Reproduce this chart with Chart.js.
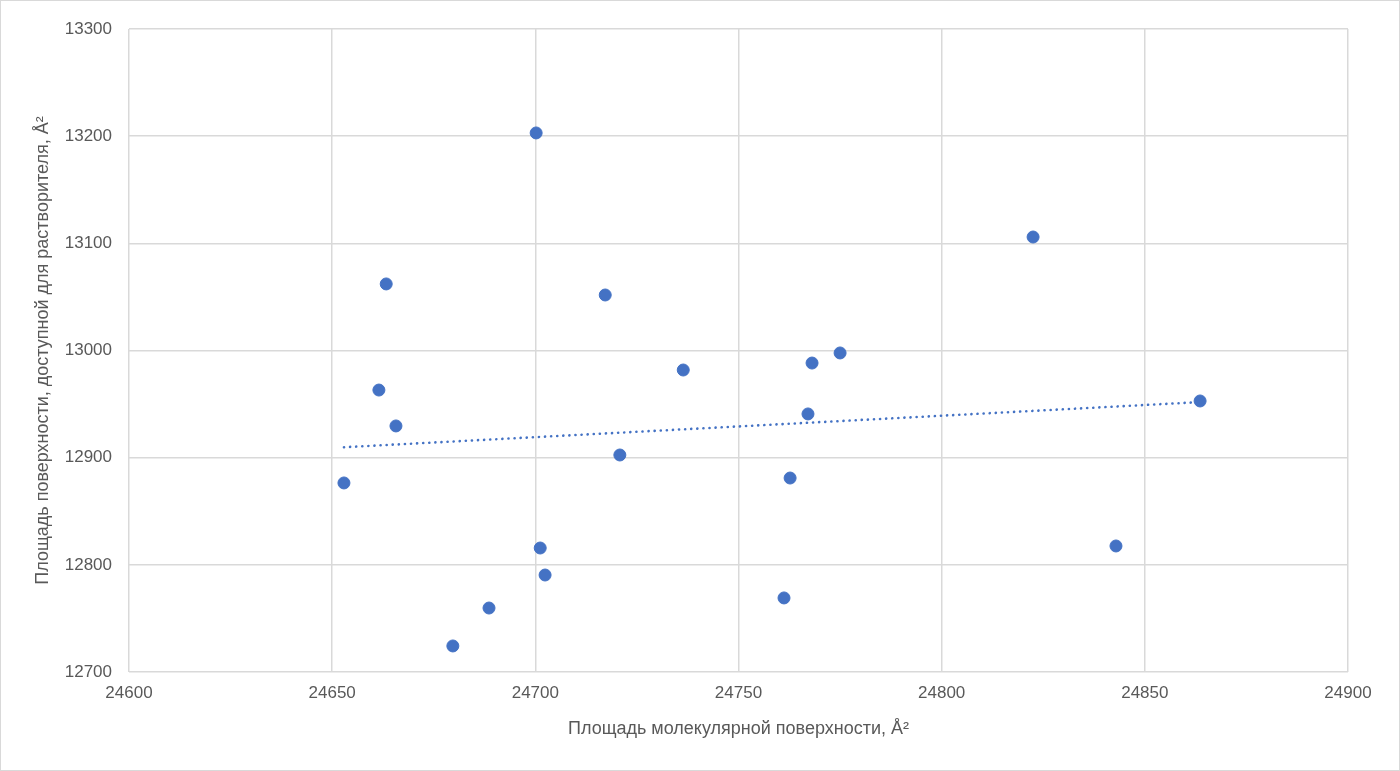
<!DOCTYPE html>
<html>
<head>
<meta charset="utf-8">
<script src="https://cdn.jsdelivr.net/npm/chart.js@4.4.1/dist/chart.umd.min.js"></script>
<style>
  html, body { margin: 0; padding: 0; background: #fff; }
  #wrap { width: 1400px; height: 771px; position: relative; }
</style>
</head>
<body>
<div id="wrap"><canvas id="chart" width="1400" height="771"></canvas></div>
<script>
// Molecular surface area vs solvent accessible surface area
const molecularArea = [
    24652.9, 24661.5, 24663.3, 24665.7, 24679.7, 24688.6, 24700.2, 24701.2, 24702.4, 24717.2,
    24720.8, 24736.4, 24761.2, 24762.7, 24767.1, 24768.1, 24775.0, 24822.5, 24842.9, 24863.6
];
const solventArea = [
    12876.4, 12963.1, 13062.1, 12929.6, 12724.3, 12759.7, 13203.0, 12815.7, 12790.5, 13051.8,
    12902.5, 12981.8, 12769.1, 12881.0, 12940.8, 12988.3, 12997.7, 13105.9, 12817.6, 12952.9
];
const xTitle = 'Площадь молекулярной поверхности, Å²';
const yTitle = 'Площадь поверхности, доступной для растворителя, Å²';

const blue = '#4472C4';
const fontFamily = "'Liberation Sans', Arial, sans-serif";

// linear trendline (least squares) over the data range
function trendline(xs, ys) {
    const n = xs.length;
    const mx = xs.reduce((a, b) => a + b, 0) / n;
    const my = ys.reduce((a, b) => a + b, 0) / n;
    let sxy = 0, sxx = 0;
    for (let i = 0; i < n; i++) {
        sxy += (xs[i] - mx) * (ys[i] - my);
        sxx += (xs[i] - mx) * (xs[i] - mx);
    }
    const k = sxy / sxx;
    const b = my - k * mx;
    const x0 = Math.min(...xs), x1 = Math.max(...xs);
    return [{ x: x0, y: k * x0 + b }, { x: x1, y: k * x1 + b }];
}

const points = molecularArea.map((x, i) => ({ x: x, y: solventArea[i] }));

const outerBorder = {
    id: 'outerBorder',
    afterDraw(chart) {
        const ctx = chart.ctx;
        ctx.save();
        ctx.strokeStyle = '#d9d9d9';
        ctx.lineWidth = 1;
        ctx.strokeRect(0.5, 0.5, chart.width - 1, chart.height - 1);
        ctx.restore();
    }
};

new Chart(document.getElementById('chart'), {
    type: 'scatter',
    data: {
        datasets: [{
            label: 'Данные',
            data: points,
            backgroundColor: blue,
            borderColor: blue,
            pointRadius: 6,
            pointHoverRadius: 6,
            order: 1
        }, {
            label: 'Линейная',
            type: 'line',
            data: trendline(molecularArea, solventArea),
            borderColor: blue,
            borderWidth: 2.6,
            borderDash: [0.1, 6],
            borderCapStyle: 'round',
            pointRadius: 0,
            fill: false,
            order: 2
        }]
    },
    options: {
        responsive: false,
        animation: false,
        layout: { padding: { top: 29, right: 52, left: 0, bottom: 27 } },
        plugins: {
            legend: { display: false },
            tooltip: { enabled: false }
        },
        scales: {
            x: {
                type: 'linear',
                min: 24600,
                max: 24900,
                afterFit: (s) => { s.height = 72; },
                border: { display: false },
                grid: { color: '#d9d9d9', lineWidth: 1.5, drawTicks: false },
                ticks: {
                    stepSize: 50,
                    padding: 11,
                    color: '#595959',
                    font: { family: fontFamily, size: 17 },
                    callback: (v) => String(v)
                },
                title: {
                    display: true,
                    text: xTitle,
                    color: '#595959',
                    font: { family: fontFamily, size: 18 },
                    padding: { top: 12 }
                }
            },
            y: {
                type: 'linear',
                min: 12700,
                max: 13300,
                afterFit: (s) => { s.width = 129; },
                border: { display: false },
                grid: { color: '#d9d9d9', lineWidth: 1.5, drawTicks: false },
                ticks: {
                    stepSize: 100,
                    padding: 17,
                    color: '#595959',
                    font: { family: fontFamily, size: 17 },
                    callback: (v) => String(v)
                },
                title: {
                    display: true,
                    text: yTitle,
                    color: '#595959',
                    font: { family: fontFamily, size: 18 },
                    padding: { top: 32 }
                }
            }
        }
    },
    plugins: [outerBorder]
});
</script>
</body>
</html>
